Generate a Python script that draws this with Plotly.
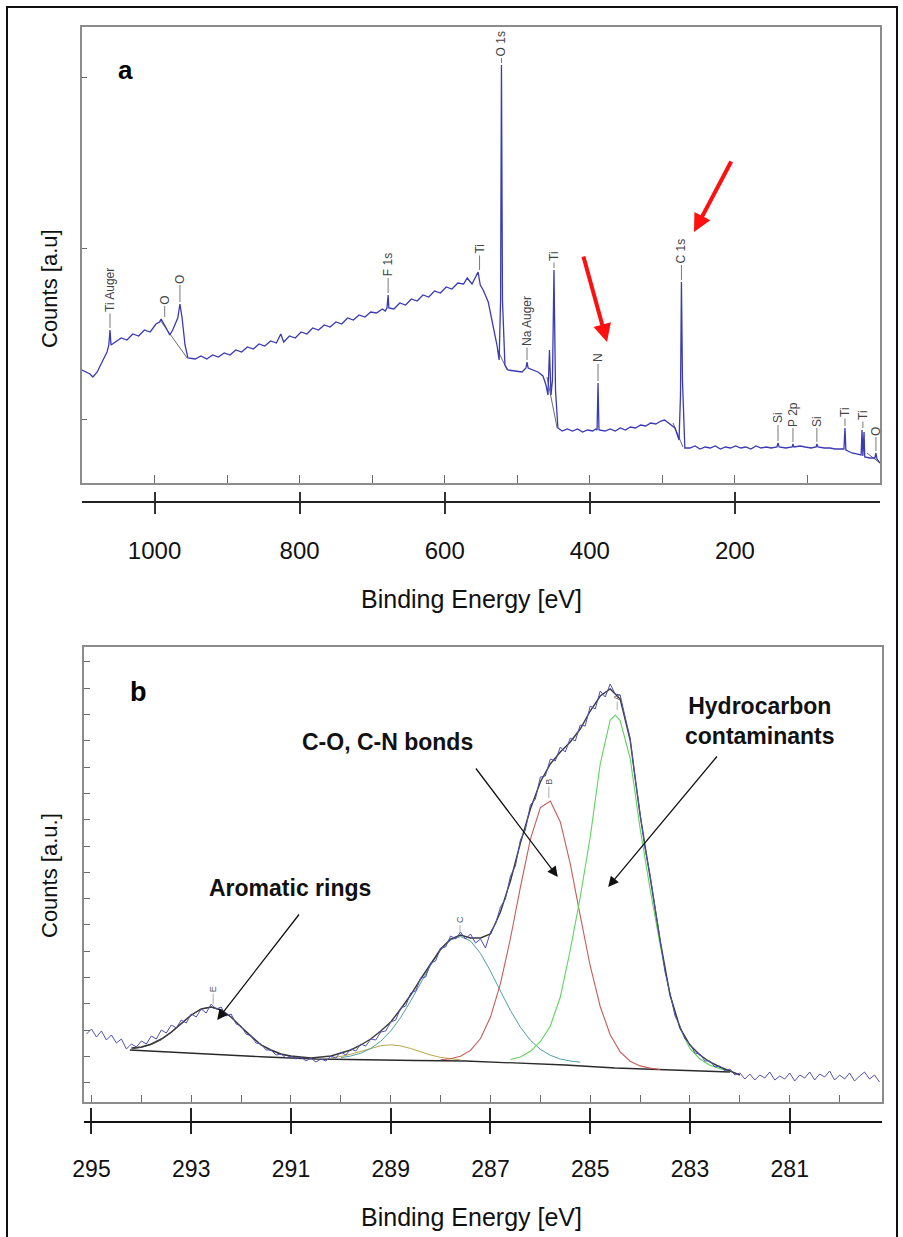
import plotly.graph_objects as go

W, H = 903, 1237

# ---------------- panel a : survey spectrum ----------------
survey_be = [
    1100, 1094.5, 1089, 1085, 1079, 1071, 1065.5, 1063, 1061.4, 1060,
    1054.5, 1046, 1038, 1030, 1022, 1014, 1006, 998, 993, 991,
    984, 979, 975, 968, 965, 962, 958, 954,
    944, 936, 928, 920, 912, 904, 896, 888, 880, 872,
    864, 856, 848, 840, 832, 826, 822, 814, 806, 798,
    790, 782, 774, 766, 758, 750, 742, 734, 726, 718,
    710, 702, 694, 686, 682, 679.6, 678, 677, 670, 662,
    654, 646, 638, 630, 622, 614, 606, 598, 590, 582,
    574, 569, 562.4, 558, 554, 551, 547, 540, 533.5, 528,
    525, 523, 521.8, 520.4, 517, 513, 503, 493.5,
    488, 486.6, 485, 478, 471.5, 464.6, 460.4, 457.7, 455.6, 453.5,
    451.5, 449.4, 447.3, 444, 438, 431, 424, 417, 410, 403,
    396, 392, 390, 388.7, 387.4, 379, 372, 365, 358, 351,
    344, 337, 330, 323, 316, 309, 302, 297, 292, 286,
    282.6, 277, 275, 273.7, 272.3, 269, 262, 255, 248, 241,
    234, 227, 220, 213, 206, 199, 192, 185, 178, 171,
    164, 157, 150, 142, 140.6, 139, 130, 121, 120, 118.6,
    110, 103, 95, 88, 87, 85.5, 77, 69, 62, 55,
    49.7, 48.3, 47, 38.6, 30, 26, 24.8, 23.6, 22, 21,
    14, 7, 5.6, 4.2, 0,
]
survey_counts = [
    113, 111, 109, 106, 111, 123, 131, 138, 153, 138,
    141, 145, 143, 149, 147, 153, 151, 159, 161, 164,
    155, 148, 153, 165, 179, 165, 138, 125,
    124, 127, 124, 128, 126, 130, 128, 133, 131, 136,
    134, 139, 137, 142, 140, 149, 141, 147, 145, 151,
    149, 155, 153, 158, 156, 161, 159, 165, 163, 168,
    166, 171, 170, 174, 172, 175, 188, 175, 174, 180,
    178, 184, 182, 188, 186, 192, 190, 196, 194, 200,
    199, 205, 199, 205, 211, 198, 193, 181, 158, 138,
    123, 183, 418, 183, 118, 113, 112, 111,
    115, 121, 115, 113, 111, 107, 98, 88, 133, 88,
    103, 213, 93, 55, 52, 54, 52, 54, 51, 53,
    52, 54, 53, 100, 53, 52, 54, 52, 55, 53,
    56, 55, 58, 57, 60, 59, 62, 63, 60, 57,
    55, 43, 88, 201, 103, 35, 35, 37, 34, 36,
    35, 37, 34, 36, 35, 37, 35, 36, 34, 37,
    35, 36, 35, 36, 40, 36, 35, 36, 39, 36,
    37, 36, 35, 36, 39, 36, 35, 35, 34, 34,
    34, 55, 33, 30, 29, 28, 53, 27, 51, 26,
    25, 25, 30, 24, 20,
]
survey_bg_be = [992.5, 955, None, 527, 514, None, 459, 445, None, 285.3, 271.6, None, 18, 0]
survey_bg_counts = [163, 125, None, 133, 113, None, 106, 55, None, 60, 36, None, 30, 20]

# peak labels: text, binding energy, count at leader tip, label offset (px)
peak_labels = ["Ti Auger", "O", "O", "F 1s", "Ti", "O 1s", "Na Auger", "Ti", "N",
               "C 1s", "Si", "P 2p", "Si", "Ti", "Ti", "O"]
peak_label_be = [1061.4, 986, 965, 678, 552, 521.8, 486.6, 449.4, 388.7,
                 273.7, 140.6, 120, 87, 48.3, 23.6, 5.6]
peak_label_counts = [155, 166, 181, 190, 213, 420, 123, 215, 102,
                     203, 42, 41, 41, 57, 55, 32]
peak_label_offset = [-38, -17, -23, -28, -21, -19, -39, -12, -23,
                     -29, -23, -28, -21, -14, -13, -20]

# red arrows (tip position in data, tail offset in px)
red_arrow_be = [376.3, 256.4]
red_arrow_counts = [141, 251]
red_arrow_ax = [-24, 38]
red_arrow_ay = [-87, -72]

survey_ticks = [1000, 800, 600, 400, 200]

# ---------------- panel b : C 1s high resolution ----------------
c1s_be = [
    295.1, 295.0, 294.9, 294.8, 294.7, 294.6, 294.5, 294.4, 294.3, 294.2,
    294.1, 294.0, 293.9, 293.8, 293.7, 293.6, 293.5, 293.4, 293.3, 293.2,
    293.1, 293.0, 292.9, 292.8, 292.7, 292.6, 292.5, 292.4, 292.3, 292.2,
    292.1, 292.0, 291.9, 291.8, 291.7, 291.6, 291.5, 291.4, 291.3, 291.2,
    291.1, 291.0, 290.9, 290.8, 290.7, 290.6, 290.5, 290.4, 290.3, 290.2,
    290.1, 290.0, 289.9, 289.8, 289.7, 289.6, 289.5, 289.4, 289.3, 289.2,
    289.1, 289.0, 288.9, 288.8, 288.7, 288.6, 288.5, 288.4, 288.3, 288.2,
    288.1, 288.0, 287.9, 287.8, 287.7, 287.6, 287.5, 287.4, 287.3, 287.2,
    287.1, 287.0, 286.9, 286.8, 286.7, 286.6, 286.5, 286.4, 286.3, 286.2,
    286.1, 286.0, 285.9, 285.8, 285.7, 285.6, 285.5, 285.4, 285.3, 285.2,
    285.1, 285.0, 284.9, 284.8, 284.7, 284.6, 284.5, 284.4, 284.3, 284.2,
    284.1, 284.0, 283.9, 283.8, 283.7, 283.6, 283.5, 283.4, 283.3, 283.2,
    283.1, 283.0, 282.9, 282.8, 282.7, 282.6, 282.5, 282.4, 282.3, 282.2,
    282.1, 282.0, 281.9, 281.8, 281.7, 281.6, 281.5, 281.4, 281.3, 281.2,
    281.1, 281.0, 280.9, 280.8, 280.7, 280.6, 280.5, 280.4, 280.3, 280.2,
    280.1, 280.0, 279.9, 279.8, 279.7, 279.6, 279.5, 279.4, 279.3, 279.2,
]
c1s_counts = [
    68, 73, 65, 71, 62, 67, 59, 63, 53, 58,
    55, 61, 58, 66, 63, 72, 69, 77, 74, 82,
    79, 88, 85, 93, 89, 98, 93, 95, 86, 88,
    78, 76, 68, 66, 59, 58, 52, 52, 47, 48,
    44, 46, 43, 45, 41, 44, 40, 43, 41, 46,
    44, 50, 47, 53, 51, 58, 56, 63, 62, 70,
    71, 80, 82, 94, 96, 109, 111, 124, 125, 139,
    141, 154, 155, 166, 163, 170, 163, 168, 159, 163,
    154, 170, 178, 195, 203, 226, 236, 262, 272, 297,
    303, 325, 326, 343, 341, 355, 350, 364, 361, 377,
    376, 396, 393, 411, 405, 418, 408, 407, 385, 364,
    324, 289, 253, 227, 193, 164, 130, 109, 86, 76,
    63, 58, 49, 48, 41, 41, 35, 36, 31, 33,
    27, 29, 23, 28, 22, 27, 24, 30, 22, 26,
    23, 29, 21, 27, 24, 30, 22, 28, 25, 31,
    22, 27, 23, 29, 21, 26, 30, 23, 27, 20,
]
envelope_be = [
    294.2, 294.0, 293.8, 293.6, 293.4, 293.2, 293.0, 292.8, 292.6, 292.4,
    292.2, 292.0, 291.8, 291.6, 291.4, 291.2, 291.0, 290.8, 290.6, 290.4,
    290.2, 290.0, 289.8, 289.6, 289.4, 289.2, 289.0, 288.8, 288.6, 288.4,
    288.2, 288.0, 287.8, 287.6, 287.4, 287.2, 287.0, 286.8, 286.6, 286.4,
    286.2, 286.0, 285.8, 285.6, 285.4, 285.2, 285.0, 284.8, 284.6, 284.4,
    284.2, 284.0, 283.8, 283.6, 283.4, 283.2, 283.0, 282.8, 282.6, 282.4,
    282.2, 282.0,
]
envelope_counts = [
    54, 55, 58, 63, 70, 79, 87, 93, 95, 92,
    85, 75, 66, 57, 52, 48, 46, 45, 44, 45,
    46, 49, 52, 57, 63, 71, 80, 93, 107, 123,
    138, 153, 163, 167, 164, 164, 168, 190, 221, 259,
    293, 320, 338, 350, 360, 373, 391, 406, 413, 403,
    362, 287, 225, 162, 107, 74, 57, 47, 40, 35,
    31, 27,
]
baseline_be = [294.23, 293.5, 292.5, 291.5, 290.5, 289.5, 288.5, 287.5, 286.5, 285.5, 284.5, 283.5, 282.2]
baseline_counts = [52, 50, 47, 45, 43, 42, 41.5, 41, 39, 37, 34, 32, 30]

aromatic_be = [294.2, 294.0, 293.8, 293.6, 293.4, 293.2, 293.0, 292.8, 292.6, 292.4,
               292.2, 292.0, 291.8, 291.6, 291.4, 291.2, 291.0, 290.8, 290.6]
aromatic_counts = [53, 54.6, 57.4, 62.2, 69.3, 78, 86.6, 93, 95, 92,
                   84.6, 75, 65.3, 57.2, 51.4, 47.7, 45.5, 44.3, 43.5]
cooc_be = [290.2, 290.0, 289.8, 289.6, 289.4, 289.2, 289.0, 288.8, 288.6, 288.4,
           288.2, 288.0, 287.8, 287.6]
cooc_counts = [44.2, 45.6, 47.8, 50.8, 53.9, 56.3, 57.2, 56.1, 53.5, 50.2,
               47, 44.6, 43, 42.1]
co_be = [290.0, 289.8, 289.6, 289.4, 289.2, 289.0, 288.8, 288.6, 288.4, 288.2,
         288.0, 287.8, 287.6, 287.4, 287.2, 287.0, 286.8, 286.6, 286.4, 286.2,
         286.0, 285.8, 285.6, 285.4, 285.2]
co_counts = [44.4, 46, 48.8, 53.6, 60.8, 71.1, 84.6, 101, 118.9, 136.7,
             151.8, 162, 165.5, 161, 148.6, 130.9, 110.9, 91.5, 74.8, 61.8,
             52.6, 46.7, 43, 41, 39.8]
cn_be = [288.0, 287.8, 287.6, 287.4, 287.2, 287.0, 286.8, 286.6, 286.4, 286.2,
         286.0, 285.8, 285.6, 285.4, 285.2, 285.0, 284.8, 284.6, 284.4, 284.2,
         284.0, 283.8, 283.6]
cn_counts = [42.2, 43.2, 45.8, 51.6, 63.5, 84.9, 118.4, 163.5, 214.9, 262.6,
             294.4, 301, 280.1, 238.1, 186.1, 136, 95.5, 67.3, 50.1, 40.8,
             36.1, 33.9, 32.5]
cc_be = [286.6, 286.4, 286.2, 286.0, 285.8, 285.6, 285.4, 285.2, 285.0, 284.8,
         284.6, 284.5, 284.4, 284.2, 284.0, 283.8, 283.6, 283.4, 283.2, 283.0,
         282.8, 282.6, 282.4, 282.2]
cc_counts = [42.5, 45, 50.7, 60.3, 76, 105, 152, 205, 265, 338,
             382, 386.8, 381.5, 344, 273.5, 213, 157.5, 107, 73.6, 53.3,
             43, 36.7, 33.4, 31]

fit_labels = ["E", "C", "B", "A"]
fit_label_be = [292.56, 287.61, 285.83, 284.46]
fit_label_counts = [98, 168, 304, 392]
fit_label_offset = [-15, -14, -16, -13]

c1s_ticks = [295, 293, 291, 289, 287, 285, 283, 281]

note_text = ["<b>Aromatic rings</b>", "<b>C-O, C-N bonds</b>", "<b>Hydrocarbon<br>contaminants</b>"]
note_be = [291.02, 289.07, 281.6]
note_counts = [214, 360, 381]
note_arrow_be = [292.48, 285.65, 284.64]
note_arrow_counts = [82, 225, 215]
note_arrow_ax = [83, -83, 110]
note_arrow_ay = [-107, -110, -132]

# ---------------- figure ----------------
FONT = "Liberation Sans, Arial, sans-serif"
fig = go.Figure()

fig.add_trace(go.Scatter(x=survey_bg_be, y=survey_bg_counts, xaxis="x", yaxis="y",
                         mode="lines", line=dict(color="#6a6a6a", width=1), hoverinfo="skip"))
fig.add_trace(go.Scatter(x=survey_be, y=survey_counts, xaxis="x", yaxis="y",
                         mode="lines", line=dict(color="#3a3ab4", width=1.3)))
# invisible helpers so the extra tick axes are drawn
fig.add_trace(go.Scatter(x=survey_ticks, y=[0] * len(survey_ticks), xaxis="x3", yaxis="y",
                         mode="markers", marker=dict(opacity=0), hoverinfo="skip"))
fig.add_trace(go.Scatter(x=survey_ticks, y=[0] * len(survey_ticks), xaxis="x4", yaxis="y",
                         mode="markers", marker=dict(opacity=0), hoverinfo="skip"))

fig.add_trace(go.Scatter(x=baseline_be, y=baseline_counts, xaxis="x2", yaxis="y2",
                         mode="lines", line=dict(color="#2a2a2a", width=1.3)))
fig.add_trace(go.Scatter(x=aromatic_be, y=aromatic_counts, xaxis="x2", yaxis="y2",
                         mode="lines", line=dict(color="#505050", width=1)))
fig.add_trace(go.Scatter(x=cooc_be, y=cooc_counts, xaxis="x2", yaxis="y2",
                         mode="lines", line=dict(color="#b8a848", width=1)))
fig.add_trace(go.Scatter(x=co_be, y=co_counts, xaxis="x2", yaxis="y2",
                         mode="lines", line=dict(color="#4fa0a0", width=1)))
fig.add_trace(go.Scatter(x=cn_be, y=cn_counts, xaxis="x2", yaxis="y2",
                         mode="lines", line=dict(color="#c85a5a", width=1.1)))
fig.add_trace(go.Scatter(x=cc_be, y=cc_counts, xaxis="x2", yaxis="y2",
                         mode="lines", line=dict(color="#5cd45c", width=1.1)))
fig.add_trace(go.Scatter(x=envelope_be, y=envelope_counts, xaxis="x2", yaxis="y2",
                         mode="lines", line=dict(color="#3a3a3a", width=1.4)))
fig.add_trace(go.Scatter(x=c1s_be, y=c1s_counts, xaxis="x2", yaxis="y2",
                         mode="lines", line=dict(color="#5050b4", width=1)))
fig.add_trace(go.Scatter(x=c1s_ticks, y=[0] * len(c1s_ticks), xaxis="x5", yaxis="y2",
                         mode="markers", marker=dict(opacity=0), hoverinfo="skip"))
fig.add_trace(go.Scatter(x=c1s_ticks, y=[0] * len(c1s_ticks), xaxis="x6", yaxis="y2",
                         mode="markers", marker=dict(opacity=0), hoverinfo="skip"))

def py(p):
    return 1 - p / H

def px(p):
    return p / W

frame = dict(showline=True, linecolor="#8c8c8c", linewidth=2, mirror=True,
             showgrid=False, zeroline=False, showticklabels=False, automargin=False,
             ticks="inside", tickcolor="#6a6a6a", tickwidth=1)

top_dom = [px(82), px(880)]
bot_dom = [px(84), px(882)]

fig.update_layout(
    width=W, height=H, autosize=False,
    margin=dict(l=0, r=0, t=0, b=0, pad=0, autoexpand=False),
    paper_bgcolor="white", plot_bgcolor="white",
    showlegend=False,
    font=dict(family=FONT, color="#111"),
    xaxis=dict(frame, domain=top_dom, anchor="y", range=[1100, 0],
               tick0=0, dtick=100, ticklen=8),
    yaxis=dict(frame, domain=[py(483), py(27)], anchor="x", range=[0, 456],
               tick0=64, dtick=171, ticklen=5),
    xaxis2=dict(frame, domain=bot_dom, anchor="y2", range=[295.15, 279.15],
                tick0=281, dtick=1, ticklen=7),
    yaxis2=dict(frame, domain=[py(1102), py(647)], anchor="x2", range=[0, 455],
                tick0=19.3, dtick=26.3, ticklen=6),
    xaxis3=dict(overlaying="x", anchor="free", position=py(502), side="bottom",
                range=[1100, 0], showline=True, linecolor="#222", linewidth=2,
                showgrid=False, zeroline=False, automargin=False,
                ticks="outside", ticklen=11,
                tickwidth=1.5, tickcolor="#333", tickvals=survey_ticks,
                tickfont=dict(family=FONT, size=24, color="#111"),
                ticklabelstandoff=16),
    xaxis4=dict(overlaying="x", anchor="free", position=py(502), side="bottom",
                range=[1100, 0], showline=False, showgrid=False, zeroline=False,
                automargin=False,
                ticks="inside", ticklen=10, tickwidth=1.5, tickcolor="#333",
                tickvals=survey_ticks, showticklabels=False),
    xaxis5=dict(overlaying="x2", anchor="free", position=py(1122), side="bottom",
                range=[295.15, 279.15], showline=True, linecolor="#111", linewidth=2,
                showgrid=False, zeroline=False, automargin=False,
                ticks="outside", ticklen=11,
                tickwidth=1.5, tickcolor="#222", tickvals=c1s_ticks,
                tickfont=dict(family=FONT, size=23, color="#111"),
                ticklabelstandoff=15),
    xaxis6=dict(overlaying="x2", anchor="free", position=py(1122), side="bottom",
                range=[295.15, 279.15], showline=False, showgrid=False, zeroline=False,
                automargin=False,
                ticks="inside", ticklen=14, tickwidth=1.5, tickcolor="#222",
                tickvals=c1s_ticks, showticklabels=False),
)

ann = []
def paper_text(x, y, text, size, angle=0, color="#111"):
    return dict(xref="paper", yref="paper", x=px(x), y=py(y), text=text,
                xanchor="center", yanchor="middle", textangle=angle,
                showarrow=False, font=dict(size=size, family=FONT, color=color))

# titles and panel letters
ann.append(paper_text(472, 599, "Binding Energy [eV]", 25))
ann.append(paper_text(472, 1217, "Binding Energy [eV]", 25))
ann.append(paper_text(49, 289, "Counts [a.u]", 22, -90))
ann.append(paper_text(49, 876, "Counts [a.u.]", 22, -90))
ann.append(paper_text(125, 70, "<b>a</b>", 26, 0, "#000"))
ann.append(paper_text(138, 692, "<b>b</b>", 27, 0, "#000"))

for t, xv, yv, off in zip(peak_labels, peak_label_be, peak_label_counts, peak_label_offset):
    ann.append(dict(xref="x", yref="y", x=xv, y=yv, text=t, textangle=-90,
                    showarrow=True, arrowhead=0, arrowwidth=0.8, arrowcolor="#555",
                    ax=0, ay=off, font=dict(size=12, family=FONT, color="#444")))

for xv, yv, a_x, a_y in zip(red_arrow_be, red_arrow_counts, red_arrow_ax, red_arrow_ay):
    ann.append(dict(xref="x", yref="y", x=xv, y=yv, text="", showarrow=True,
                    arrowhead=2, arrowsize=0.9, arrowwidth=4, arrowcolor="#ff1010",
                    ax=a_x, ay=a_y))

for t, xv, yv, off in zip(fit_labels, fit_label_be, fit_label_counts, fit_label_offset):
    ann.append(dict(xref="x2", yref="y2", x=xv, y=yv, text=t, textangle=-90,
                    showarrow=True, arrowhead=0, arrowwidth=0.6, arrowcolor="#777",
                    ax=0, ay=off, font=dict(size=9, family=FONT, color="#555")))

for t, xv, yv in zip(note_text, note_be, note_counts):
    ann.append(dict(xref="x2", yref="y2", x=xv, y=yv, text=t, showarrow=False,
                    xanchor="center", yanchor="middle",
                    font=dict(size=23, family=FONT, color="#111")))

for xv, yv, a_x, a_y in zip(note_arrow_be, note_arrow_counts, note_arrow_ax, note_arrow_ay):
    ann.append(dict(xref="x2", yref="y2", x=xv, y=yv, text="", showarrow=True,
                    arrowhead=2, arrowsize=1.6, arrowwidth=1.3, arrowcolor="#111",
                    ax=a_x, ay=a_y))

fig.update_layout(annotations=ann)

fig.add_shape(type="rect", xref="paper", yref="paper",
              x0=px(7), x1=px(897), y0=py(1250), y1=py(7),
              line=dict(color="#111", width=2), fillcolor="rgba(0,0,0,0)")

fig.write_html(
    "out.html",
    config={"responsive": False, "displayModeBar": False},
    post_script="document.body.style.margin='0';document.body.style.overflow='hidden';",
)
